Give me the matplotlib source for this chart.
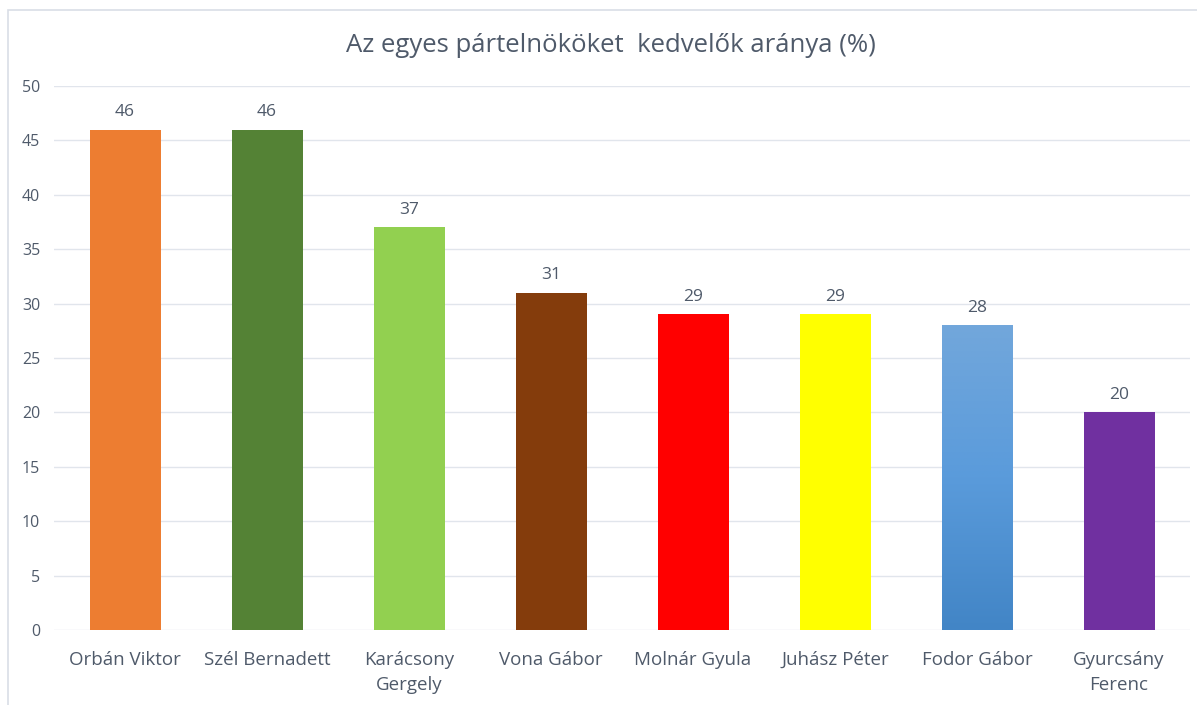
import numpy as np
import matplotlib.pyplot as plt
from matplotlib.patches import Rectangle
from matplotlib.colors import LinearSegmentedColormap

names = ["Orbán Viktor", "Szél Bernadett", "Karácsony\nGergely", "Vona Gábor",
         "Molnár Gyula", "Juhász Péter", "Fodor Gábor", "Gyurcsány\nFerenc"]
values = [46, 46, 37, 31, 29, 29, 28, 20]
colors = ["#ED7D31", "#548235", "#92D050", "#843C0C",
          "#FF0000", "#FFFF00", "#5B9BD5", "#7030A0"]
yticks = list(range(0, 51, 5))

txt = "#4F5A6A"
plt.rcParams["font.family"] = ["Open Sans", "DejaVu Sans"]

fig = plt.figure(figsize=(11.97, 7.05), dpi=100)
ax = fig.add_axes([54 / 1197, 75 / 705, (1190 - 54) / 1197, 544 / 705])

x = np.arange(len(names))
bars = ax.bar(x, values, width=0.5, color=colors, zorder=2)

# gradient fill for the Fodor Gábor bar
grad = LinearSegmentedColormap.from_list("blu", ["#4285C6", "#5A9BDB", "#72A7DB"])
b = bars[6]
b.set_facecolor("none")
im = ax.imshow(np.linspace(0, 1, 256).reshape(-1, 1), cmap=grad, aspect="auto",
               origin="lower",
               extent=[b.get_x(), b.get_x() + b.get_width(), 0, b.get_height()],
               zorder=2)
im.set_clip_path(b)

for xi, v in zip(x, values):
    ax.annotate(str(v), (xi, v), xytext=(0, 7), textcoords="offset points",
                ha="center", va="bottom", fontsize=12.5, color=txt)

ax.set_xlim(-0.5, len(names) - 0.5)
ax.set_ylim(0, 50)
ax.set_yticks(yticks)
ax.set_xticks(x)
ax.set_xticklabels(names, fontsize=13.5, color=txt, linespacing=1.5)
ax.tick_params(axis="y", labelsize=11.5, colors=txt, length=0, pad=10)
ax.tick_params(axis="x", length=0, pad=15)
ax.grid(axis="y", color="#E1E5EC", linewidth=1, zorder=0)
for s in ax.spines.values():
    s.set_visible(False)

fig.text(611 / 1197, 1 - 45 / 705, "Az egyes pártelnököket  kedvelők aránya (%)",
         ha="center", va="center", fontsize=18.5, color=txt)

fig.patches.append(Rectangle((8 / 1197, -0.05), 1.1, 1 - 10 / 705 + 0.05,
                             transform=fig.transFigure, fill=False,
                             edgecolor="#D9DEE6", linewidth=1.2))

fig.savefig("out.png", dpi=100)
